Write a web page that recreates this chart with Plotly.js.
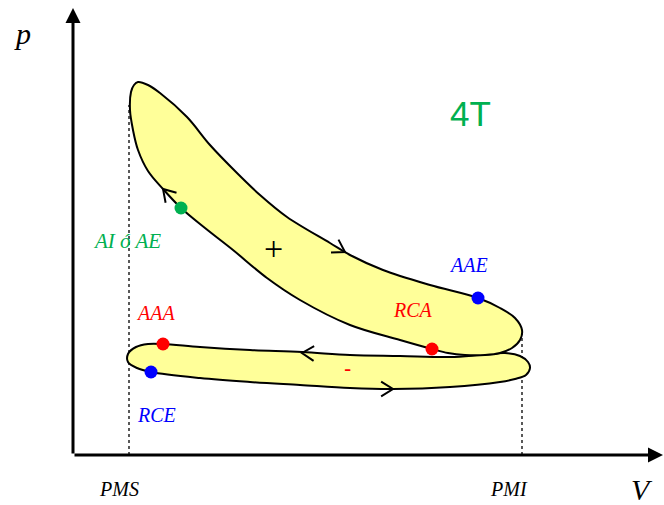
<!DOCTYPE html>
<html>
<head>
<meta charset="utf-8">
<script src="https://cdn.plot.ly/plotly-3.0.1.min.js"></script>
<style>html,body{margin:0;padding:0;background:#fff;}#chart{width:664px;height:505px;}</style>
</head>
<body>
<div id="chart"></div>
<script>
// Volume (V) and pressure (p) in arbitrary units
const upperLoopV = [60,57,58,61,65,75,87,114,137,164,187,214,257,277,310,357,405,427,442,449,447,439,427,412,392,375,359,327,277,227,194,160,132,108,90,75,65,60];
const upperLoopP = [325,345,363,370,373,370,362,338,310,282,260,238,212,200,185,170,157,147,137,125,115,107,102,100,100,102,106,115,130,155,177,205,227,247,266,284,305,325];

const lowerLoopV = [177,229,277,327,377,407,432,447,455,457,453,442,427,377,320,277,227,177,127,78,64,55,55,63,75,90,127,177];
const lowerLoopP = [105,103,100,99,98,100,102,99,93,87,80,76,73,68,66,67,70,73,77,83,87,93,101,108,111,111,108,105];

const pointNames = ["AI ó AE", "AAE", "RCA", "AAA", "RCE"];
const pointV = [108, 405, 359, 90, 78];
const pointP = [247, 157, 106, 111, 83];
const pointColors = ["#00B050", "#0000FF", "#FF0000", "#FF0000", "#0000FF"];

const labelText = ["AI ó AE", "AAE", "RCA", "AAA", "RCE"];
const labelV = [54, 395, 340, 82, 83];
const labelP = [214, 190, 145, 142, 40];

const deadCentreNames = ["PMS", "PMI"];
const deadCentreV = [56, 449];
const deadCentreTopP = [350, 125];
const deadCentreLabelV = [46, 436];

const arrowTipV = [90, 272, 229, 320];
const arrowTipP = [266, 203, 102, 66];
const arrowTailV = [102, 260, 242, 307];
const arrowTailP = [253, 210, 101.5, 66];

const axisMaxV = 590;
const axisMaxP = 447;

// chevrons built from tip & direction
const chevX = [], chevY = [];
const L = 14, ang = 32 * Math.PI / 180;
for (let i = 0; i < arrowTipV.length; i++) {
  let dx = arrowTipV[i] - arrowTailV[i], dy = arrowTipP[i] - arrowTailP[i];
  const n = Math.hypot(dx, dy); dx /= n; dy /= n;
  const bx = -dx, by = -dy;
  const r1x = bx * Math.cos(ang) - by * Math.sin(ang), r1y = bx * Math.sin(ang) + by * Math.cos(ang);
  const r2x = bx * Math.cos(-ang) - by * Math.sin(-ang), r2y = bx * Math.sin(-ang) + by * Math.cos(-ang);
  chevX.push(arrowTipV[i] + L * r1x, arrowTipV[i], arrowTipV[i] + L * r2x, null);
  chevY.push(arrowTipP[i] + L * r1y, arrowTipP[i], arrowTipP[i] + L * r2y, null);
}

const dotX = [], dotY = [];
deadCentreV.forEach((v, i) => { dotX.push(v, v, null); dotY.push(0, deadCentreTopP[i], null); });

const traces = [
  {x: dotX, y: dotY, mode: 'lines', line: {color: '#000', width: 1.3, dash: 'dot'}, hoverinfo: 'skip'},
  {x: lowerLoopV, y: lowerLoopP, mode: 'lines', fill: 'toself', fillcolor: '#FFFF99',
   line: {color: '#000', width: 2, shape: 'spline', smoothing: 1}, hoverinfo: 'skip'},
  {x: upperLoopV, y: upperLoopP, mode: 'lines', fill: 'toself', fillcolor: '#FFFF99',
   line: {color: '#000', width: 2, shape: 'spline', smoothing: 1}, hoverinfo: 'skip'},
  {x: chevX, y: chevY, mode: 'lines', line: {color: '#000', width: 2}, hoverinfo: 'skip'},
  {x: pointV, y: pointP, text: pointNames, mode: 'markers', marker: {color: pointColors, size: 13}, hoverinfo: 'text'}
];

const serif = 'Liberation Serif, Times New Roman, serif';
const annotations = [
  {x: 0, y: axisMaxP, ax: 0, ay: 0, axref: 'x', ayref: 'y', xref: 'x', yref: 'y', text: '', showarrow: true, arrowhead: 2, arrowsize: 1, arrowwidth: 3, arrowcolor: '#000', standoff: 0},
  {x: axisMaxV, y: 0, ax: 0, ay: 0, axref: 'x', ayref: 'y', xref: 'x', yref: 'y', text: '', showarrow: true, arrowhead: 2, arrowsize: 1, arrowwidth: 3, arrowcolor: '#000', standoff: 0},
  {x: -51, y: 422, text: '<i>p</i>', showarrow: false, font: {family: serif, size: 30, color: '#000'}},
  {x: 569, y: -34, text: '<i>V</i>', showarrow: false, font: {family: serif, size: 30, color: '#000'}},
  {x: 397, y: 342, text: '4T', showarrow: false, font: {family: 'Liberation Sans, Arial, sans-serif', size: 35, color: '#00B050'}},
  {x: 200, y: 207, text: '+', showarrow: false, font: {family: serif, size: 34, color: '#000'}},
  {x: 274, y: 87, text: '-', showarrow: false, font: {family: 'Liberation Sans, Arial, sans-serif', size: 22, color: '#FF0000'}}
];
labelText.forEach((t, i) => annotations.push({x: labelV[i], y: labelP[i], text: '<i>' + t + '</i>', showarrow: false,
  font: {family: serif, size: i === 0 ? 21 : 20, color: pointColors[i]}}));
deadCentreNames.forEach((t, i) => annotations.push({x: deadCentreLabelV[i], y: -34, text: '<i>' + t + '</i>', showarrow: false,
  font: {family: serif, size: 20, color: '#000'}}));

const layout = {
  width: 664, height: 505,
  margin: {l: 0, r: 0, t: 0, b: 0},
  paper_bgcolor: '#fff', plot_bgcolor: '#fff',
  showlegend: false,
  xaxis: {range: [-73, 591], visible: false, fixedrange: true},
  yaxis: {range: [-50, 455], visible: false, fixedrange: true},
  annotations: annotations
};
Plotly.newPlot('chart', traces, layout, {displayModeBar: false, staticPlot: true});
</script>
</body>
</html>
